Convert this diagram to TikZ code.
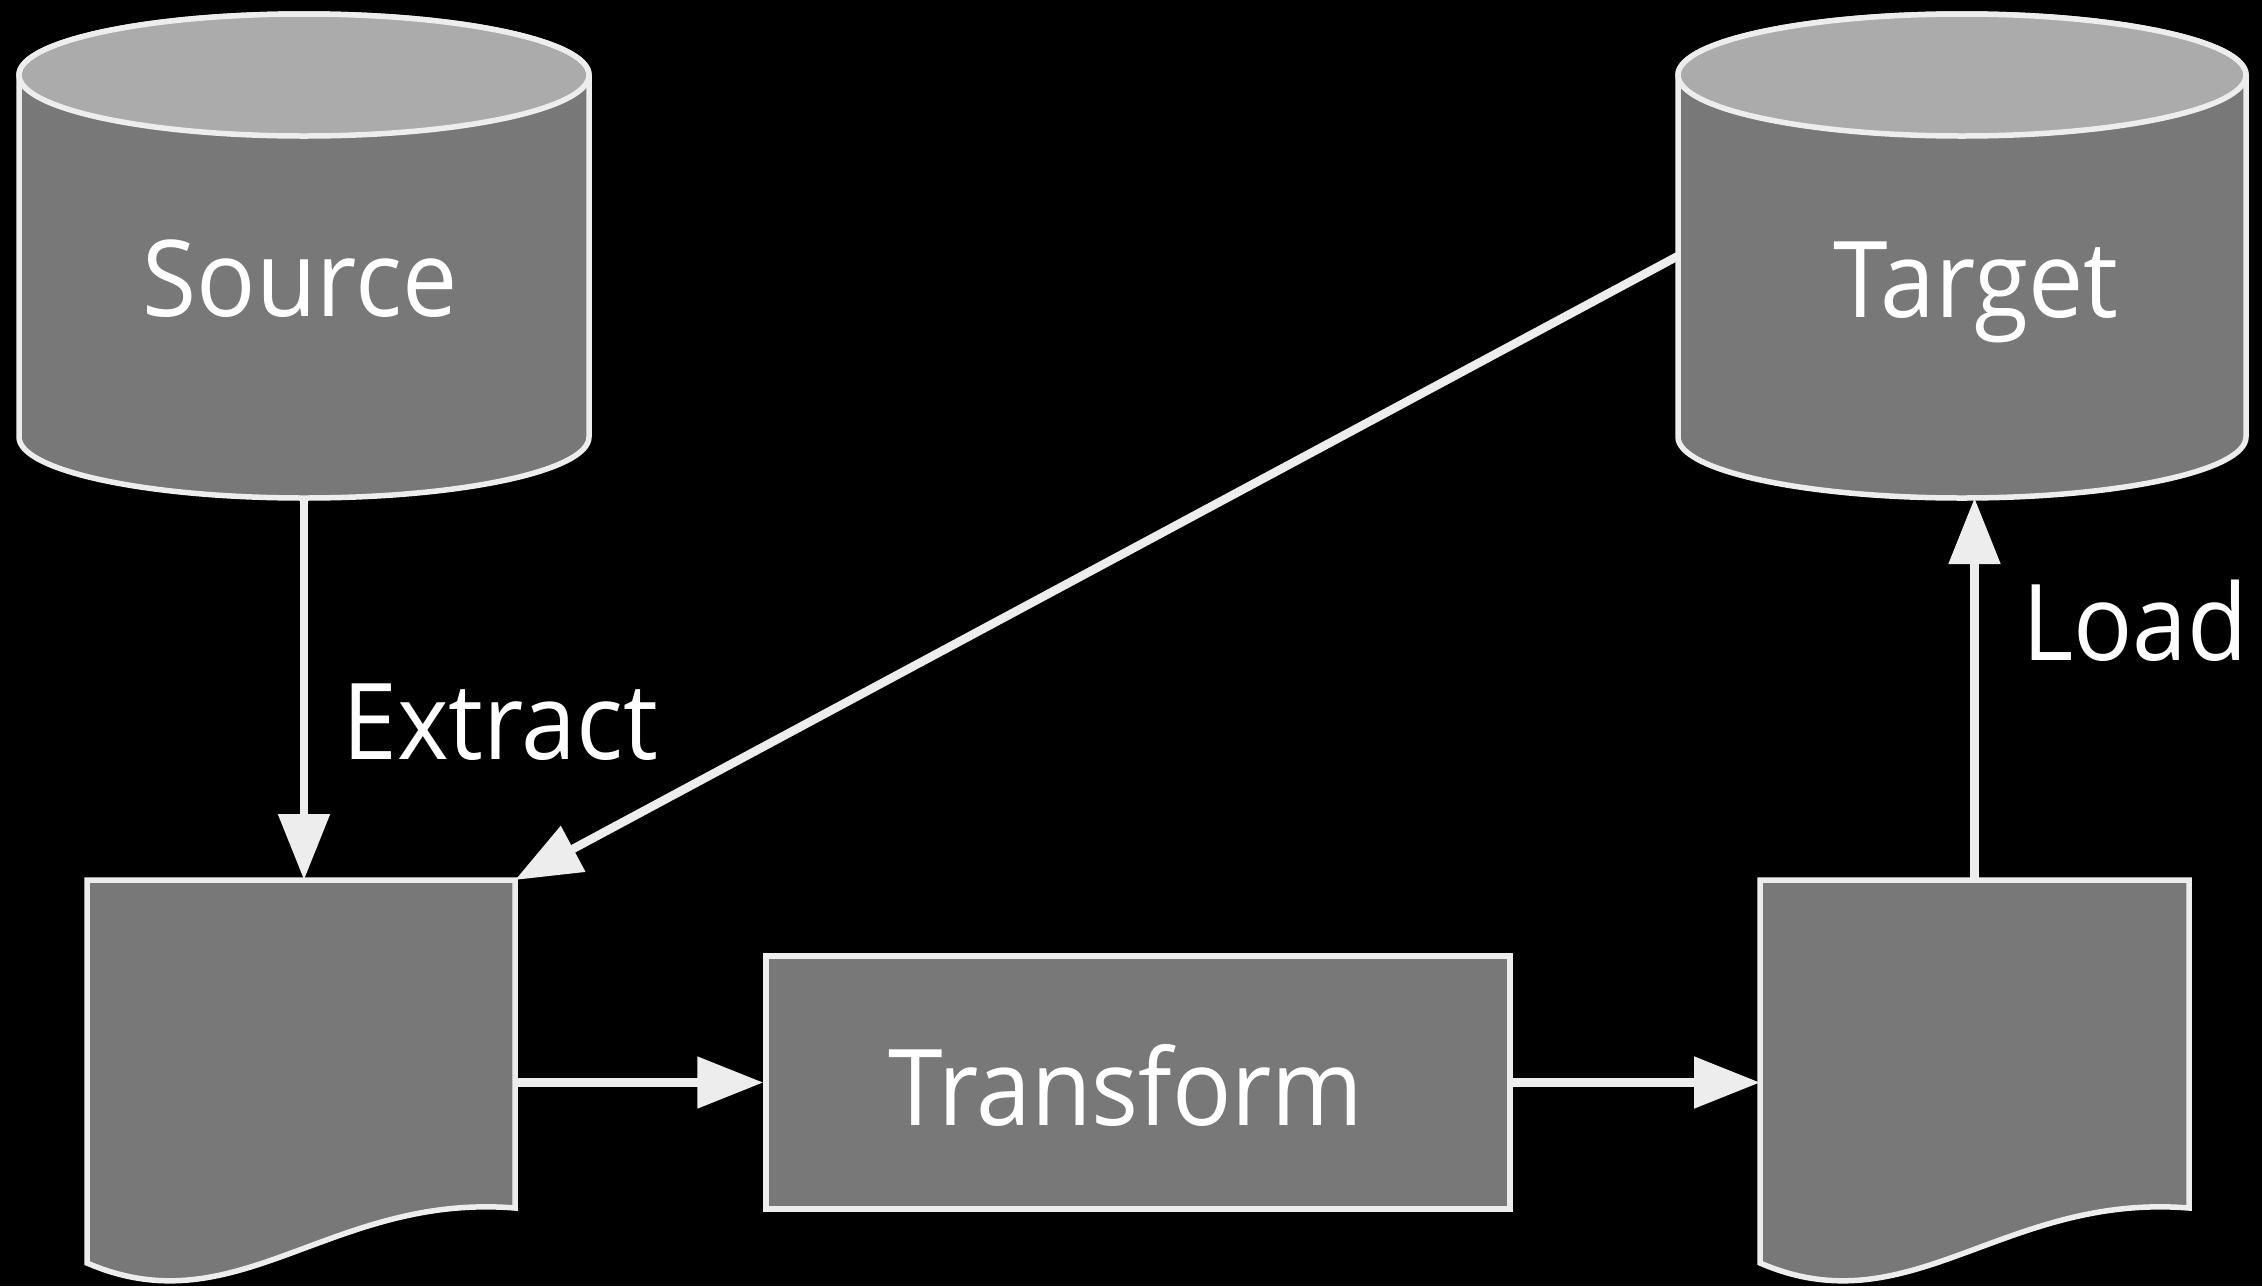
\documentclass[tikz,border=0pt]{standalone}
\usepackage{fontspec}
\setmainfont{Open Sans}[FakeStretch=0.93]
\usetikzlibrary{arrows.meta,calc}
\definecolor{bodyg}{HTML}{787878}
\definecolor{topg}{HTML}{ABABAB}
\definecolor{edgec}{HTML}{EDEDED}
\newcommand\drawcyl[2]{%
  \path[shapeline, fill=bodyg] ($(#1.north west)+(0,-61)$) -- ($(#1.south west)+(0,61)$)
    arc[start angle=180, end angle=360, x radius=#2, y radius=61]
    -- ($(#1.north east)+(0,-61)$)
    arc[start angle=0, end angle=180, x radius=#2, y radius=61] -- cycle;
  \path[shapeline, fill=topg] ($(#1.north)+(0,-61)$) ellipse[x radius=#2, y radius=61];
}
\newcommand\drawdoc[1]{%
  \path[shapeline, fill=bodyg] (#1.north west) -- (#1.north east) -- (#1.south east)
    .. controls ($(#1.south west)+(243,15)$) and ($(#1.south west)+(150,-120)$) ..
    ($(#1.south west)+(0,-55)$) -- cycle;
}
\begin{document}
\begin{tikzpicture}[x=1pt, y=1pt,
  shapebox/.style={inner sep=0pt, outer sep=0pt, draw=none},
  shapeline/.style={draw=edgec, line width=5.5pt, line join=miter},
  lbl/.style={text=white, font=\fontsize{106}{120}\selectfont, inner sep=0pt},
  conn/.style={draw=edgec, line width=8.5pt, -{Triangle[length=66pt, width=50pt]}}]
\fill[black] (0,0) rectangle (2262,-1286);
\useasboundingbox (0,0) rectangle (2262,-1286);

\node[shapebox, minimum width=570pt, minimum height=484pt] (src) at (304,-256) {};
\node[shapebox, minimum width=568pt, minimum height=484pt] (tgt) at (1962,-256) {};
\node[shapebox, minimum width=428pt, minimum height=328pt] (d1) at (301,-1044) {};
\node[shapebox, minimum width=429pt, minimum height=328pt] (d2) at (1974.5,-1044) {};

\drawcyl{src}{285}
\drawcyl{tgt}{284}
\drawdoc{d1}
\drawdoc{d2}
\node[shapeline, fill=bodyg, minimum width=744pt, minimum height=253pt, inner sep=0pt] (tr) at (1138,-1082.5) {};

\node[lbl, anchor=base] (srctxt) at (300,-316) {Source};
\node[lbl, anchor=base] (tgttxt) at (1976,-317) {Target};
\node[lbl, anchor=base] (trtxt) at (1126,-1125) {Transform};
\node[lbl, anchor=base west] (extxt) at (342,-759) {Extract};
\node[lbl, anchor=base west] (ldtxt) at (2022,-660) {Load};

\draw[conn] (src.south) -- (src.south |- d1.north);
\draw[conn] (tgt.west) -- (d1.north east);
\draw[conn] (d1.east |- tr.west) -- (tr.west);
\draw[conn] (tr.east) -- (d2.west |- tr.east);
\draw[conn] (d2.north) -- (d2.north |- tgt.south);
\end{tikzpicture}
\end{document}
